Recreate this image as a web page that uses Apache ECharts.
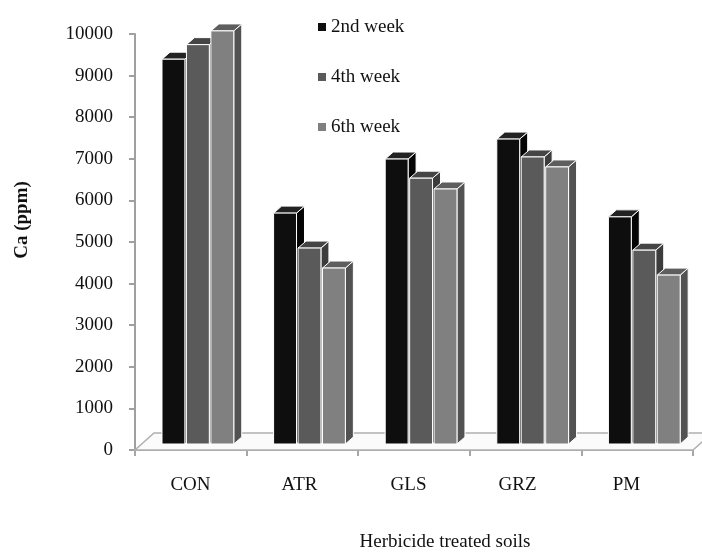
<!DOCTYPE html>
<html>
<head>
<meta charset="utf-8">
<script src="https://cdn.jsdelivr.net/npm/echarts@6/dist/echarts.min.js"></script>
<style>
html,body{margin:0;padding:0;background:#fff;}
#c{width:702px;height:552px;}
</style>
</head>
<body>
<div id="c"></div>
<script>
var categories = ['CON', 'ATR', 'GLS', 'GRZ', 'PM'];
var seriesNames = ['2nd week', '4th week', '6th week'];
var week2 = [9250, 5550, 6850, 7330, 5460];
var week4 = [9600, 4710, 6390, 6900, 4660];
var week6 = [9930, 4230, 6130, 6660, 4060];
var yTicks = [0, 1000, 2000, 3000, 4000, 5000, 6000, 7000, 8000, 9000, 10000];

var frontColors = ['#0e0e0e', '#5a5a5a', '#808080'];
var sideColors = ['#050505', '#3c3c3c', '#525252'];
var topColors = ['#222222', '#454545', '#5e5e5e'];

var FONT = '"Liberation Serif", "DejaVu Serif", serif';

function makeRender(si) {
  return function (params, api) {
    var ci = api.value(0), v = api.value(1);
    var base = api.coord([ci, 0]);
    var top = api.coord([ci, v]);
    var band = api.size([1, 0])[0];
    var catLeft = base[0] - band / 2;
    var x0 = catLeft + band * 0.242 + si * band * 0.219;
    var w = band * 0.205;
    var x1 = x0 + w;
    var yb = base[1] - 6, yt = top[1] - 6;
    var dx = 8, dy = 7;
    var st = {stroke: '#ffffff', lineWidth: 1};
    return {
      type: 'group',
      children: [
        {type: 'polygon', shape: {points: [[x1, yt], [x1 + dx, yt - dy], [x1 + dx, yb - dy], [x1, yb]]},
         style: Object.assign({fill: sideColors[si]}, st)},
        {type: 'polygon', shape: {points: [[x0, yt], [x1, yt], [x1 + dx, yt - dy], [x0 + dx, yt - dy]]},
         style: Object.assign({fill: topColors[si]}, st)},
        {type: 'rect', shape: {x: x0, y: yt, width: w, height: yb - yt},
         style: Object.assign({fill: frontColors[si]}, st)}
      ]
    };
  };
}

var allData = [week2, week4, week6];
var series = allData.map(function (arr, si) {
  return {
    name: seriesNames[si],
    type: 'custom',
    xAxisIndex: 0,
    yAxisIndex: 0,
    z: 5,
    itemStyle: {color: frontColors[si]},
    renderItem: makeRender(si),
    encode: {x: 0, y: 1},
    data: arr.map(function (v, i) { return [i, v]; })
  };
});

var chart = echarts.init(document.getElementById('c'), null, {renderer: 'canvas'});
chart.setOption({
  backgroundColor: '#ffffff',
  animation: false,
  legend: {
    data: seriesNames,
    orient: 'vertical',
    left: 313,
    top: 12,
    itemWidth: 8,
    itemHeight: 8,
    itemGap: 30,
    icon: 'rect',
    textStyle: {fontFamily: FONT, fontSize: 19, color: '#111', lineHeight: 20}
  },
  grid: [
    {left: 135, right: 9, top: 34, bottom: 102},
    {left: 136, width: 545, top: 34, bottom: 102}
  ],
  xAxis: [
    {
      type: 'category', gridIndex: 0, data: categories,
      axisLine: {show: true, lineStyle: {color: '#a6a6a6', width: 2}},
      axisTick: {show: true, length: 6, lineStyle: {color: '#a6a6a6', width: 2}},
      axisLabel: {show: false}
    },
    {
      type: 'category', gridIndex: 1, data: categories,
      axisLine: {show: false}, axisTick: {show: false},
      axisLabel: {show: true, margin: 26, fontFamily: FONT, fontSize: 19, color: '#111'}
    }
  ],
  yAxis: [
    {
      type: 'value', gridIndex: 0, min: 0, max: 10000, interval: 1000,
      axisLine: {show: true, lineStyle: {color: '#a0a0a0', width: 2}},
      axisTick: {show: true, length: 6, lineStyle: {color: '#a0a0a0', width: 2}},
      splitLine: {show: false},
      axisLabel: {margin: 22, fontFamily: FONT, fontSize: 19, color: '#111',
        formatter: function (v) { return yTicks.indexOf(v) >= 0 ? String(v) : ''; }}
    },
    {type: 'value', gridIndex: 1, show: false, min: 0, max: 10000}
  ],
  graphic: [
    {type: 'polygon', z: 1, shape: {points: [[135, 450], [693, 450], [712, 433], [154, 433]]},
     style: {fill: '#fbfbfb', stroke: '#b0b0b0', lineWidth: 1.5}},
    {type: 'text', z: 10, x: 22, y: 220, rotation: Math.PI / 2,
     style: {text: 'Ca (ppm)', fontFamily: FONT, fontSize: 19, fontWeight: 'bold', fill: '#111',
       align: 'center', verticalAlign: 'middle'}},
    {type: 'text', z: 10, x: 445, y: 542,
     style: {text: 'Herbicide treated soils', fontFamily: FONT, fontSize: 19, fill: '#111',
       align: 'center', verticalAlign: 'middle'}}
  ],
  series: series
});
</script>
</body>
</html>
